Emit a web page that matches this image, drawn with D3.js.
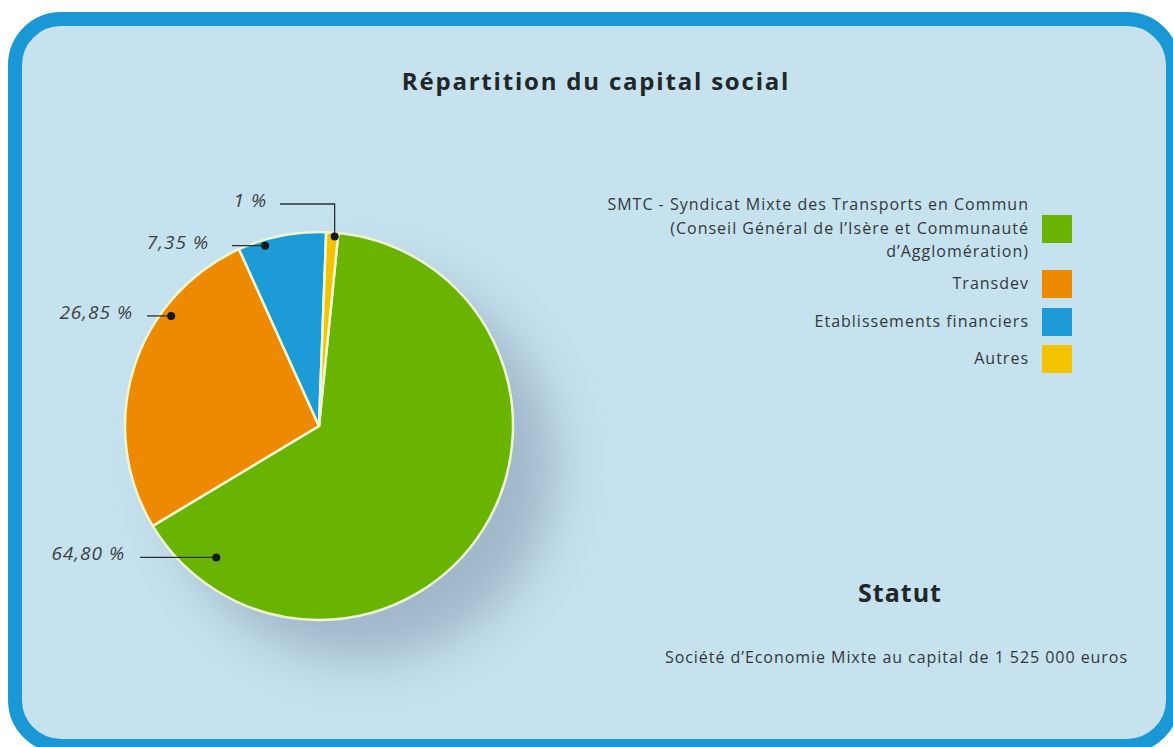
<!DOCTYPE html>
<html>
  <head>
    <meta charset="utf-8">
    <script src="https://d3js.org/d3.v7.min.js"></script>
    <style>
      body { margin: 0; background: #ffffff; }
      svg { display: block; }
    </style>
  </head>
  <body>
    <script>

      // data
      var categories = ["SMTC", "Transdev", "Etablissements financiers", "Autres"];
      var values = [64.80, 26.85, 7.35, 1];
      var valueLabels = ["64,80 %", "26,85 %", "7,35 %", "1 %"];
      var legendLines = [
        ["SMTC - Syndicat Mixte des Transports en Commun",
         "(Conseil Général de l\u2019Isère et Communauté",
         "d\u2019Agglomération)"],
        ["Transdev"],
        ["Etablissements financiers"],
        ["Autres"]
      ];
      var colors = ["#69b400", "#ee8a00", "#1d9bd7", "#f4c300"];

      var W = 1173, H = 747;
      var cx = 319, cy = 426, r = 194;

      var svg = d3.select("body")
        .append("svg")
        .attr("width", W)
        .attr("height", H);

      var defs = svg.append("defs");
      defs.append("filter")
        .attr("id", "shadow")
        .attr("x", "-50%").attr("y", "-50%")
        .attr("width", "200%").attr("height", "200%")
        .append("feGaussianBlur")
        .attr("stdDeviation", 26);

      // frame
      svg.append("rect")
        .attr("x", 15)
        .attr("y", 19)
        .attr("width", 1158)
        .attr("height", 727)
        .attr("rx", 46)
        .attr("fill", "#c5e2ee")
        .attr("stroke", "#1a98d5")
        .attr("stroke-width", 14);

      // title
      svg.append("text")
        .attr("x", 596)
        .attr("y", 90)
        .attr("text-anchor", "middle")
        .style("font-family", "'Open Sans', sans-serif")
        .style("font-weight", "bold")
        .style("font-size", "24px")
        .style("letter-spacing", "1.8px")
        .style("fill", "#222629")
        .text("Répartition du capital social");

      // pie
      var pie = d3.pie()
        .sort(null)
        .startAngle(0.1)
        .endAngle(0.1 + 2 * Math.PI);

      var arcs = pie(values);
      var arc = d3.arc().innerRadius(0).outerRadius(r);

      var g = svg.append("g")
        .attr("transform", `translate(${cx},${cy})`);

      g.append("circle")
        .attr("cx", 42)
        .attr("cy", 40)
        .attr("r", r)
        .attr("fill", "#7d8ca6")
        .attr("opacity", 0.5)
        .attr("filter", "url(#shadow)");

      g.selectAll("path.slice")
        .data(arcs)
        .enter()
        .append("path")
        .attr("class", "slice")
        .attr("d", arc)
        .attr("fill", function(d, i) { return colors[i]; })
        .attr("stroke", "#eef7d2")
        .attr("stroke-width", 2.5)
        .attr("stroke-linejoin", "round");

      // label layout: where in the slice the dot sits and where the text goes
      var labelLayout = [
        {t: 0.91, rf: 0.86, lineX: 140, textX: 125},
        {t: 0.70, rf: 0.95, lineX: 147, textX: 133},
        {t: 0.29, rf: 0.97, lineX: 232, textX: 209},
        {t: 0.72, rf: 0.98, lineX: 280, textX: 267, elbowY: 204}
      ];

      var labels = svg.append("g");
      arcs.forEach(function(d, i) {
        var L = labelLayout[i];
        var a = d.startAngle + L.t * (d.endAngle - d.startAngle);
        var px = cx + r * L.rf * Math.sin(a);
        var py = cy - r * L.rf * Math.cos(a);
        var ly = L.elbowY !== undefined ? L.elbowY : py;
        var pts = L.elbowY !== undefined
          ? [[L.lineX, ly], [px, ly], [px, py]]
          : [[L.lineX, py], [px, py]];
        labels.append("path")
          .attr("d", d3.line()(pts))
          .attr("fill", "none")
          .attr("stroke", "#2b3036")
          .attr("stroke-width", 1.3);
        labels.append("circle")
          .attr("cx", px)
          .attr("cy", py)
          .attr("r", 4)
          .attr("fill", "#15191c");
        labels.append("text")
          .attr("x", L.textX)
          .attr("y", ly + 3)
          .attr("text-anchor", "end")
          .style("font-family", "'Open Sans', sans-serif")
          .style("font-style", "italic")
          .style("font-size", "19px")
          .style("letter-spacing", "1px")
          .style("fill", "#3a4046")
          .text(valueLabels[i]);
      });

      // legend
      var legendY = [215, 270, 308, 345];
      var legend = svg.append("g");
      categories.forEach(function(c, i) {
        legend.append("rect")
          .attr("x", 1042)
          .attr("y", legendY[i])
          .attr("width", 30)
          .attr("height", 28)
          .attr("fill", colors[i]);
        var lines = legendLines[i];
        var t = legend.append("text")
          .attr("text-anchor", "end")
          .style("font-family", "'Open Sans', sans-serif")
          .style("font-size", "16px")
          .style("letter-spacing", "1px")
          .style("fill", "#33383d");
        var y0 = lines.length > 1 ? legendY[i] - 5 : legendY[i] + 19;
        lines.forEach(function(line, j) {
          t.append("tspan")
            .attr("x", 1029)
            .attr("y", y0 + j * 23.5)
            .text(line);
        });
      });

      // statut
      svg.append("text")
        .attr("x", 900)
        .attr("y", 602)
        .attr("text-anchor", "middle")
        .style("font-family", "'Open Sans', sans-serif")
        .style("font-weight", "bold")
        .style("font-size", "25px")
        .style("letter-spacing", "1px")
        .style("fill", "#222629")
        .text("Statut");

      svg.append("text")
        .attr("x", 1128)
        .attr("y", 663)
        .attr("text-anchor", "end")
        .style("font-family", "'Open Sans', sans-serif")
        .style("font-size", "16px")
        .style("letter-spacing", "0.95px")
        .style("fill", "#33383d")
        .text("Société d\u2019Economie Mixte au capital de 1 525 000 euros");

    </script>
  </body>
</html>
